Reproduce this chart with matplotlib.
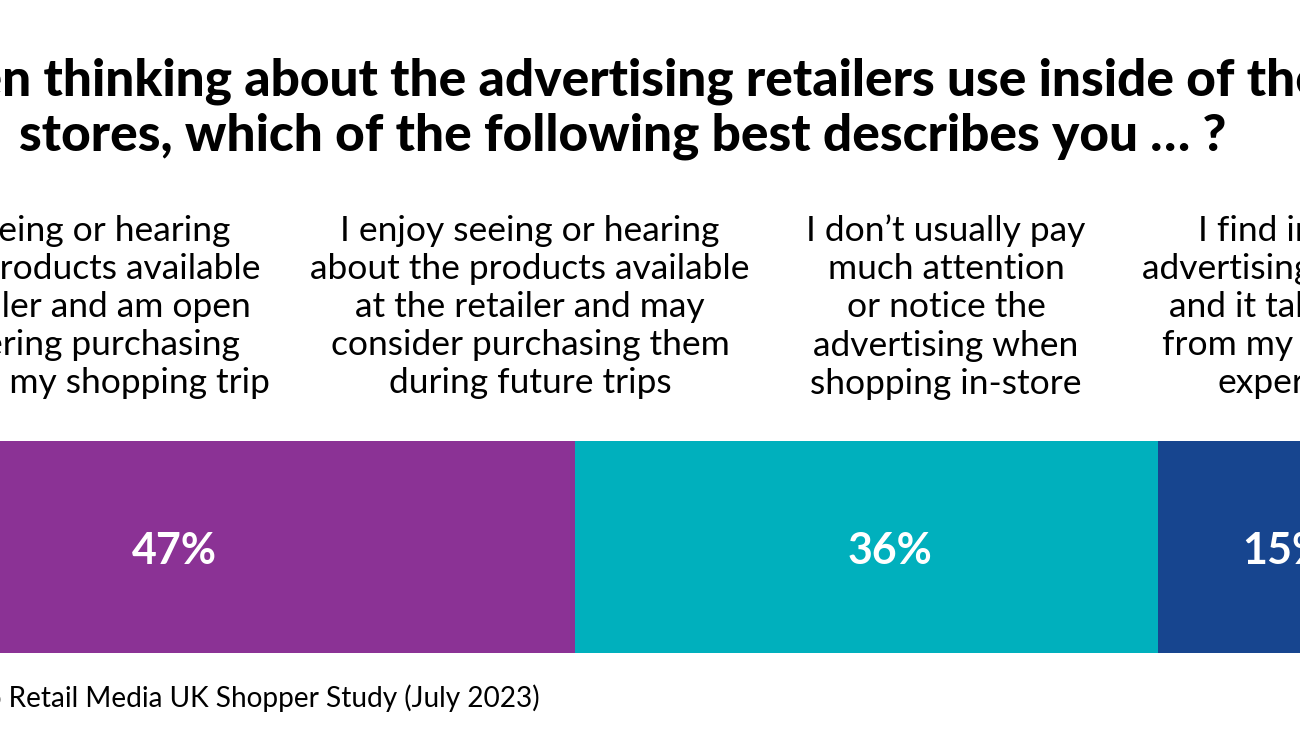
import matplotlib
matplotlib.use("Agg")
import matplotlib.pyplot as plt

# survey answers and shares (%)
answers = [
    "I enjoy seeing or hearing\nabout the products available\nat the retailer and am open\nto considering purchasing\nthem during my shopping trip",
    "I enjoy seeing or hearing\nabout the products available\nat the retailer and may\nconsider purchasing them\nduring future trips",
    "I don\u2019t usually pay\nmuch attention\nor notice the\nadvertising when\nshopping in-store",
    "I find in-store\nadvertising annoying\nand it takes away\nfrom my shopping\nexperience",
]
shares = [47, 36, 15]
colors = ["#8B3295", "#00B0BD", "#17458F"]

title = ("When thinking about the advertising retailers use inside of their\n"
         "stores, which of the following best describes you \u2026 ?")
source = "Source: Criteo Retail Media UK Shopper Study (July 2023)"

W, H = 1300, 732
fig = plt.figure(figsize=(13, 7.32), dpi=100)

# bar layer: x in percent, wider than the figure (chart is cropped)
px_per_pct = 16.2
left_px = 575 - shares[0] * px_per_pct
bx = fig.add_axes([left_px / W, (H - 653) / H, 100 * px_per_pct / W, 212 / H])
bx.set_xlim(0, 100)
bx.set_ylim(0, 1)
bx.axis("off")

# text layer in pixel coordinates, on top of the bars
tx = fig.add_axes([0, 0, 1, 1])
tx.set_xlim(0, W)
tx.set_ylim(H, 0)
tx.axis("off")
tx.set_zorder(3)

# where the value labels sit inside each bar (pixels)
label_x = [174, 890, 1285]

start = 0
for v, c, lx in zip(shares, colors, label_x):
    bx.barh(0.5, v, left=start, height=1, color=c, edgecolor="none")
    tx.text(lx, 551, f"{v}%", ha="center", va="center",
            color="white", fontsize=31, fontweight="bold", family="Lato")
    start += v

tx.text(623, 109, title, ha="center", va="center", fontsize=37,
        fontweight="black", family="Lato", linespacing=1.2)

col_x = [41, 530, 946, 1303]
for a, cx in zip(answers, col_x):
    tx.text(cx, 307, a, ha="center", va="center", fontsize=25.5,
            family="Lato", linespacing=1.24)

tx.text(540, 698, source, ha="right", va="center", fontsize=20.2, family="Lato")

fig.savefig("out.png", dpi=100)
